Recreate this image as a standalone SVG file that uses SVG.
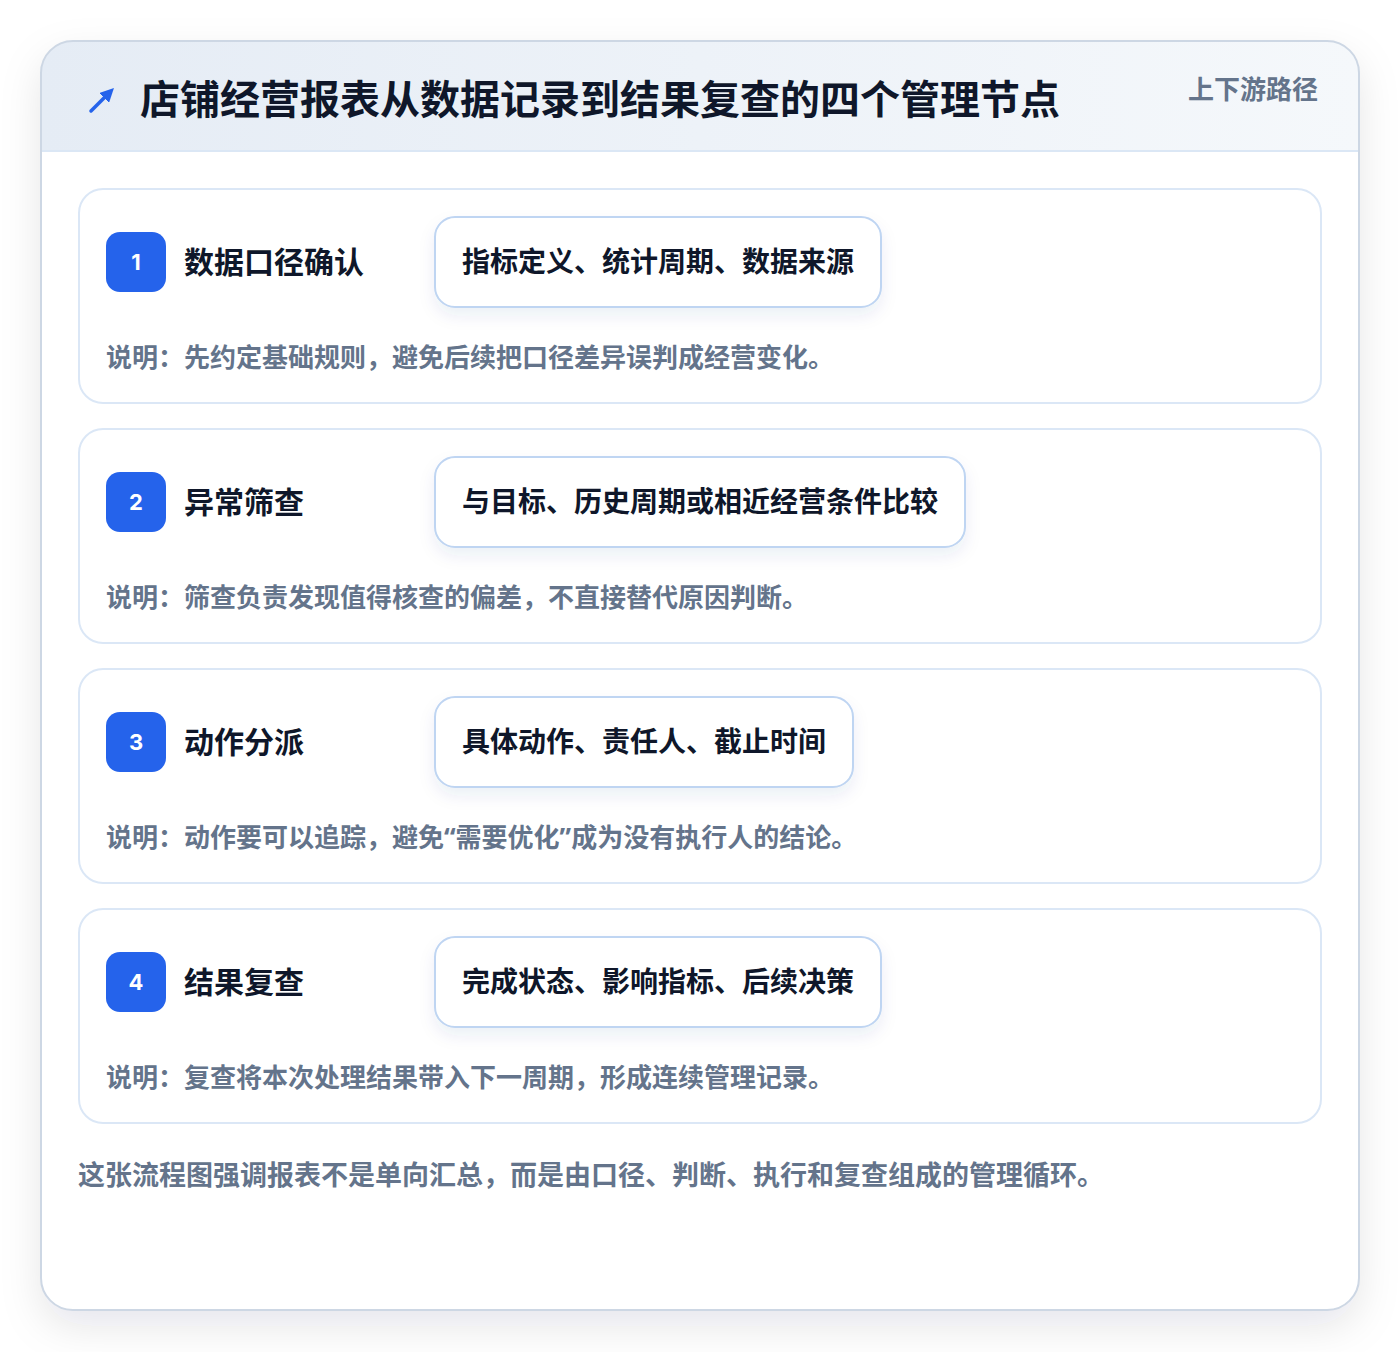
<svg xmlns="http://www.w3.org/2000/svg" width="1400" height="1352" viewBox="0 0 1400 1352">
<defs>
  <linearGradient id="hdr" x1="0" y1="0" x2="1" y2="0">
    <stop offset="0" stop-color="#e5ecf5"/>
    <stop offset="1" stop-color="#f5f8fb"/>
  </linearGradient>
  <filter id="outerShadow" x="-10%" y="-10%" width="120%" height="120%">
    <feDropShadow dx="0" dy="16" stdDeviation="20" flood-color="#0f172a" flood-opacity="0.10"/>
  </filter>
  <filter id="pillShadow" x="-10%" y="-30%" width="120%" height="170%">
    <feDropShadow dx="0" dy="8" stdDeviation="8" flood-color="#1e3a8a" flood-opacity="0.08"/>
  </filter>
  <clipPath id="cardClip">
    <rect x="41" y="41" width="1318" height="1269" rx="32"/>
  </clipPath>
  <marker id="arrowHead" viewBox="0 0 10 10" refX="6" refY="5" markerWidth="4" markerHeight="4" orient="auto">
    <path d="M0,0 L10,5 L0,10 z" fill="#2563eb"/>
  </marker>
</defs>
<style>
  text { font-family: "Noto Sans CJK SC", "Noto Sans", sans-serif; font-weight: 700; }
  .title { font-size: 40px; fill: #0f172a; }
  .tag { font-size: 26px; fill: #64748b; }
  .step { fill: #ffffff; stroke: #dbe7f6; stroke-width: 2; }
  .badge { fill: #2563eb; }
  .num { font-family: "Inter", "Noto Sans", sans-serif; font-size: 22px; fill: #ffffff; text-anchor: middle; }
  .stitle { font-size: 30px; fill: #0f172a; }
  .pill { fill: #ffffff; stroke: #bfd5f2; stroke-width: 2; }
  .ptext { font-size: 28px; fill: #0f172a; }
  .desc { font-size: 26px; fill: #64748b; }
  .foot { font-size: 27px; fill: #64748b; }
  .q { font-family: "Noto Sans", "DejaVu Sans", sans-serif; }
</style>
<rect width="1400" height="1352" fill="#ffffff"/>
<g id="frame">
  <rect x="41" y="41" width="1318" height="1269" rx="32" fill="#ffffff" filter="url(#outerShadow)"/>
  <g clip-path="url(#cardClip)">
    <rect x="41" y="41" width="1318" height="110" fill="url(#hdr)"/>
    <line x1="41" y1="151" x2="1359" y2="151" stroke="#dbe7f5" stroke-width="2"/>
  </g>
  <rect x="41" y="41" width="1318" height="1269" rx="32" fill="none" stroke="#cdd7e4" stroke-width="2"/>
</g>
<g id="header">
  <line x1="91" y1="111" x2="110" y2="92" stroke="#2563eb" stroke-width="3.5" stroke-linecap="round" marker-end="url(#arrowHead)"/>
  <text class="title" x="140" y="114">店铺经营报表从数据记录到结果复查的四个管理节点</text>
  <text class="tag" x="1318" y="99" text-anchor="end">上下游路径</text>
</g>
<g id="step1">
  <rect class="step" x="79" y="189" width="1242" height="214" rx="24"/>
  <rect class="badge" x="106" y="232" width="60" height="60" rx="14"/>
  <text class="num" x="136" y="270">1</text>
  <text class="stitle" x="184" y="273">数据口径确认</text>
  <rect class="pill" x="435" y="217" width="446" height="90" rx="20" filter="url(#pillShadow)"/>
  <text class="ptext" x="462" y="272">指标定义、统计周期、数据来源</text>
  <text class="desc" x="106" y="367">说明：先约定基础规则，避免后续把口径差异误判成经营变化。</text>
</g>
<g id="step2">
  <rect class="step" x="79" y="429" width="1242" height="214" rx="24"/>
  <rect class="badge" x="106" y="472" width="60" height="60" rx="14"/>
  <text class="num" x="136" y="510">2</text>
  <text class="stitle" x="184" y="513">异常筛查</text>
  <rect class="pill" x="435" y="457" width="530" height="90" rx="20" filter="url(#pillShadow)"/>
  <text class="ptext" x="462" y="512">与目标、历史周期或相近经营条件比较</text>
  <text class="desc" x="106" y="607">说明：筛查负责发现值得核查的偏差，不直接替代原因判断。</text>
</g>
<g id="step3">
  <rect class="step" x="79" y="669" width="1242" height="214" rx="24"/>
  <rect class="badge" x="106" y="712" width="60" height="60" rx="14"/>
  <text class="num" x="136" y="750">3</text>
  <text class="stitle" x="184" y="753">动作分派</text>
  <rect class="pill" x="435" y="697" width="418" height="90" rx="20" filter="url(#pillShadow)"/>
  <text class="ptext" x="462" y="752">具体动作、责任人、截止时间</text>
  <text class="desc" x="106" y="847">说明：动作要可以追踪，避免<tspan class="q">“</tspan>需要优化<tspan class="q">”</tspan>成为没有执行人的结论。</text>
</g>
<g id="step4">
  <rect class="step" x="79" y="909" width="1242" height="214" rx="24"/>
  <rect class="badge" x="106" y="952" width="60" height="60" rx="14"/>
  <text class="num" x="136" y="990">4</text>
  <text class="stitle" x="184" y="993">结果复查</text>
  <rect class="pill" x="435" y="937" width="446" height="90" rx="20" filter="url(#pillShadow)"/>
  <text class="ptext" x="462" y="992">完成状态、影响指标、后续决策</text>
  <text class="desc" x="106" y="1087">说明：复查将本次处理结果带入下一周期，形成连续管理记录。</text>
</g>
<g id="connectors"></g>
<g id="footer">
  <text class="foot" x="78" y="1185">这张流程图强调报表不是单向汇总，而是由口径、判断、执行和复查组成的管理循环。</text>
</g>
</svg>
